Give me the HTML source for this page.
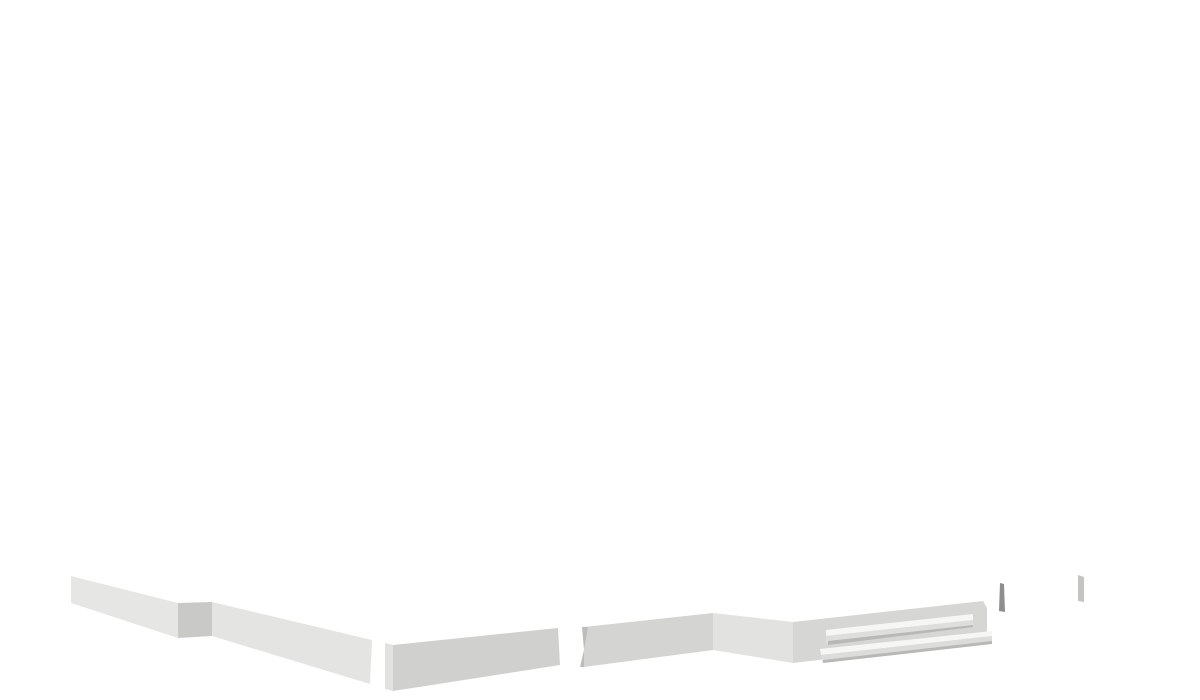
<!DOCTYPE html>
<html><head><style>html,body{margin:0;padding:0;background:#fff;}svg{display:block}</style></head>
<body>
<svg width="1200" height="700" viewBox="0 0 1200 700" xmlns="http://www.w3.org/2000/svg">
<g stroke="none">
<polygon points="71,576 178,603 178,638 71,603" fill="#e6e6e4"/>
<polygon points="178,603 212,602 212,636 178,638" fill="#c9c9c7"/>
<polygon points="212,602 372,640 370,684 212,636" fill="#e4e4e2"/>
<polygon points="385,643 393,645 393,691 385,689" fill="#e2e2e0"/>
<polygon points="393,645 558,628 560,665 393,691" fill="#d0d0ce"/>
<polygon points="584,627 713,613 713,650 584,667" fill="#d4d4d2"/>
<polygon points="582,627 588,627 584,650 584,667 580,667 584,650" fill="#bcbcba"/>
<polygon points="713,613 793,622 793,663 713,650" fill="#e2e2e0"/>
<polygon points="793,622 983,601 987,608 987,640 793,663" fill="#d6d6d4"/>
<!-- upper step -->
<polygon points="826,630 973,614 973,620 826,636" fill="#f6f6f4"/>
<polygon points="826,636 973,620 973,626 828,644 826,644" fill="#dededc"/>
<polygon points="828,641 973,625 973,627 828,645" fill="#b8b8b6"/>
<!-- lower step -->
<polygon points="820,649 992,631 992,636 821,655" fill="#f6f6f4"/>
<polygon points="821,655 992,636 992,642 823,663" fill="#dcdcda"/>
<polygon points="823,660 992,641 992,644 823,663" fill="#b8b8b6"/>
<polygon points="1000,583 1004,584 1005,612 999,611" fill="#8e8e8c"/>
<polygon points="1078,575 1084,577 1084,602 1078,601" fill="#c4c4c2"/>
</g>
</svg>
</body></html>
